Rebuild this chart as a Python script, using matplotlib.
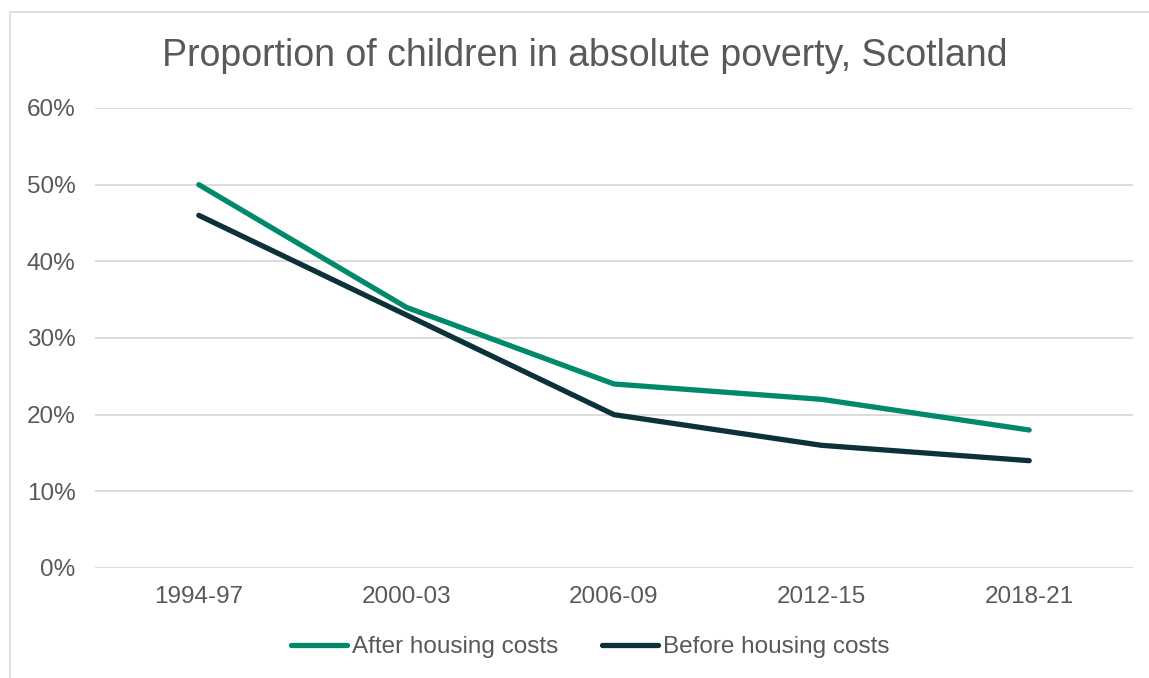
import matplotlib.pyplot as plt
from matplotlib.patches import Rectangle
from matplotlib.ticker import PercentFormatter

plt.rcParams['font.family'] = ['Liberation Sans', 'DejaVu Sans']

periodos = ["1994-97", "2000-03", "2006-09", "2012-15", "2018-21"]
apos_habitacao = [50, 34, 24, 22, 18]
antes_habitacao = [46, 33, 20, 16, 14]

cinza_texto = "#595959"
verde = "#00896B"
escuro = "#0B3238"

fig = plt.figure(figsize=(11.49, 6.78), dpi=100)

# moldura clara em volta do gráfico
fig.patches.append(Rectangle((10 / 1149, -0.01), 1.05, 1 - 12 / 678 + 0.01,
                             transform=fig.transFigure, fill=False,
                             edgecolor="#D9D9D9", linewidth=1.2))

ax = fig.add_axes([95 / 1149, 110 / 678, 1038 / 1149, 460 / 678])

x = range(len(periodos))
ax.plot(x, apos_habitacao, color=verde, linewidth=3.8, solid_capstyle="round",
        solid_joinstyle="round", label="After housing costs")
ax.plot(x, antes_habitacao, color=escuro, linewidth=3.8, solid_capstyle="round",
        solid_joinstyle="round", label="Before housing costs")

ax.set_xlim(-0.5, len(periodos) - 0.5)
ax.set_ylim(0, 60)
ax.set_yticks(range(0, 61, 10))
ax.yaxis.set_major_formatter(PercentFormatter(decimals=0))
ax.set_xticks(list(x))
ax.set_xticklabels(periodos)

ax.grid(axis="y", color="#D9D9D9", linewidth=1.3)
ax.set_axisbelow(True)
for lado in ["top", "right", "left", "bottom"]:
    ax.spines[lado].set_visible(False)
ax.tick_params(length=0, labelsize=17.5, labelcolor=cinza_texto)
ax.tick_params(axis="y", pad=14)
ax.tick_params(axis="x", pad=13)

fig.text(0.5 + 10 / 1149, 1 - 56 / 678, "Proportion of children in absolute poverty, Scotland",
         ha="center", va="center", fontsize=27, color=cinza_texto)

fig.legend(loc="center", bbox_to_anchor=(590 / 1149, 1 - 647 / 678), ncol=2,
           frameon=False, fontsize=17.5, labelcolor=cinza_texto,
           handlelength=2.3, handletextpad=0.2, columnspacing=1.8)

fig.savefig("out.png", dpi=100)
